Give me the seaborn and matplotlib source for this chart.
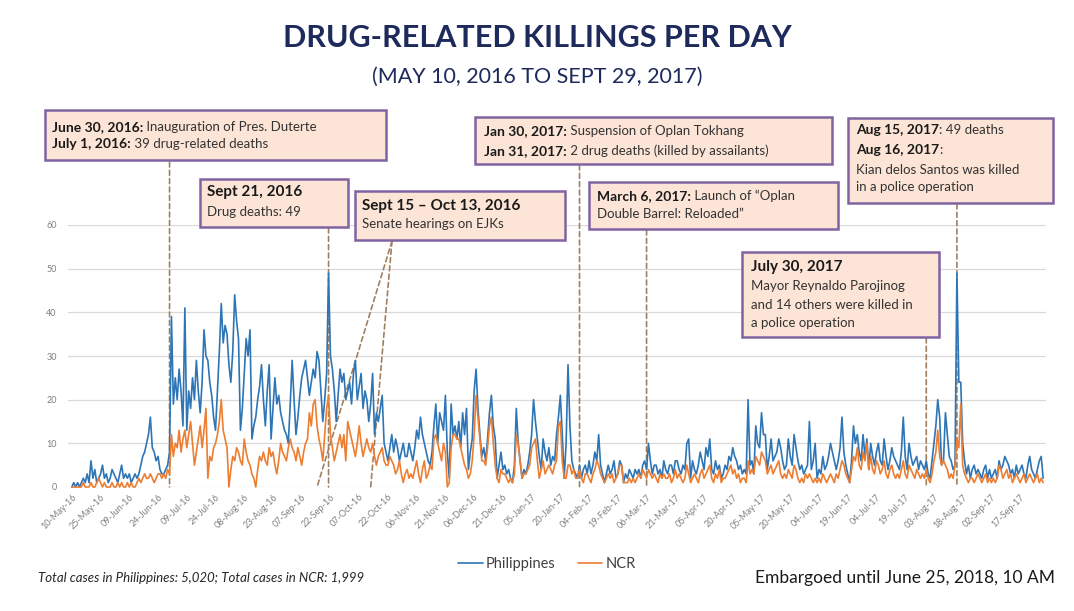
import numpy as np
import pandas as pd
import seaborn as sns
import matplotlib.pyplot as plt
from matplotlib.patches import Rectangle

# daily counts, 10 May 2016 -> 29 Sep 2017
start_date = "2016-05-10"
philippines = [
    0, 1, 0, 1, 0, 1, 2, 1, 3, 1,
    6, 2, 4, 1, 2, 3, 5, 2, 3, 1,
    2, 4, 3, 2, 1, 3, 5, 2, 3, 2,
    3, 1, 2, 3, 2, 3, 5, 7, 8, 10,
    12, 16, 9, 8, 6, 7, 4, 3, 3, 4,
    5, 8, 39, 19, 25, 20, 27, 22, 14, 41,
    13, 22, 18, 25, 20, 29, 22, 17, 24, 36,
    30, 29, 24, 21, 16, 13, 22, 31, 42, 33,
    37, 35, 28, 24, 31, 44, 38, 34, 13, 18,
    26, 34, 30, 36, 11, 14, 16, 20, 23, 28,
    20, 14, 22, 28, 11, 18, 25, 19, 21, 17,
    15, 13, 12, 10, 19, 29, 20, 12, 16, 21,
    25, 27, 29, 25, 21, 24, 27, 25, 31, 29,
    22, 15, 20, 26, 49, 30, 27, 22, 15, 21,
    27, 24, 26, 20, 22, 24, 19, 26, 29, 20,
    23, 26, 18, 22, 20, 15, 19, 26, 12, 17,
    15, 18, 21, 10, 8, 6, 9, 12, 8, 11,
    9, 6, 8, 10, 7, 7, 10, 8, 6, 9,
    13, 11, 16, 12, 10, 8, 6, 5, 8, 14,
    19, 10, 17, 15, 13, 21, 8, 2, 19, 12,
    14, 11, 15, 9, 17, 12, 18, 4, 8, 11,
    22, 27, 18, 12, 7, 9, 6, 11, 17, 21,
    14, 11, 2, 5, 8, 4, 5, 3, 4, 2,
    1, 5, 18, 10, 6, 2, 4, 3, 5, 8,
    12, 20, 15, 11, 7, 4, 11, 8, 6, 9,
    5, 7, 6, 12, 16, 21, 12, 2, 10, 28,
    14, 6, 4, 3, 2, 5, 2, 4, 5, 3,
    6, 3, 5, 8, 6, 12, 5, 3, 1, 3,
    5, 3, 4, 6, 2, 3, 6, 5, 1, 3,
    2, 4, 3, 2, 4, 3, 4, 2, 5, 6,
    4, 10, 6, 3, 5, 5, 3, 4, 2, 6,
    4, 3, 5, 5, 3, 6, 6, 4, 3, 5,
    4, 10, 11, 2, 6, 4, 3, 5, 8, 6,
    4, 9, 7, 11, 4, 3, 6, 4, 5, 2,
    3, 5, 4, 7, 6, 9, 7, 6, 4, 5,
    3, 4, 3, 20, 5, 6, 3, 14, 10, 9,
    17, 12, 12, 4, 7, 11, 6, 7, 8, 11,
    9, 6, 4, 5, 11, 7, 5, 12, 9, 6,
    4, 5, 3, 4, 5, 15, 4, 6, 10, 2,
    4, 3, 7, 4, 5, 7, 10, 8, 6, 4,
    6, 9, 16, 8, 5, 3, 1, 6, 14, 10,
    12, 8, 6, 12, 7, 11, 4, 10, 7, 5,
    8, 10, 6, 5, 11, 7, 4, 6, 9, 7,
    6, 5, 4, 8, 16, 7, 4, 10, 7, 5,
    6, 7, 4, 6, 5, 4, 6, 3, 2, 6,
    10, 14, 20, 16, 5, 6, 17, 12, 7, 6,
    4, 5, 49, 24, 24, 10, 6, 3, 5, 2,
    4, 5, 3, 4, 3, 2, 4, 5, 2, 4,
    2, 3, 4, 2, 6, 4, 5, 7, 6, 5,
    3, 4, 2, 5, 3, 4, 5, 3, 2, 5,
    7, 4, 3, 2, 4, 6, 7, 2,
]
ncr = [
    0, 0, 0, 0, 0, 0, 1, 0, 0, 0,
    1, 0, 0, 1, 2, 1, 0, 1, 0, 0,
    0, 1, 0, 0, 1, 0, 1, 0, 0, 1,
    0, 1, 0, 0, 1, 2, 1, 2, 3, 2,
    2, 3, 2, 1, 2, 3, 3, 2, 3, 2,
    4, 3, 12, 7, 10, 9, 13, 8, 11, 13,
    9, 12, 15, 10, 5, 8, 11, 14, 9, 13,
    18, 2, 7, 6, 9, 10, 12, 15, 20, 13,
    11, 9, 0, 4, 7, 6, 9, 8, 6, 5,
    11, 8, 6, 5, 3, 2, 0, 4, 7, 6,
    8, 6, 5, 9, 7, 8, 5, 3, 6, 10,
    8, 7, 6, 9, 11, 9, 8, 6, 9, 7,
    5, 8, 10, 11, 17, 14, 19, 20, 14, 11,
    9, 6, 12, 18, 21, 12, 9, 6, 8, 10,
    12, 9, 12, 6, 15, 13, 11, 9, 7, 10,
    14, 10, 7, 9, 11, 9, 8, 10, 7, 5,
    7, 8, 9, 6, 5, 5, 7, 6, 5, 3,
    4, 6, 3, 1, 3, 4, 2, 3, 2, 4,
    6, 3, 1, 4, 6, 2, 3, 5, 4, 11,
    12, 10, 8, 6, 10, 8, 0, 1, 9, 12,
    12, 11, 11, 9, 7, 5, 4, 2, 3, 6,
    12, 21, 16, 11, 6, 6, 5, 9, 14, 16,
    10, 5, 2, 1, 4, 3, 3, 2, 1, 2,
    1, 3, 12, 10, 6, 2, 3, 3, 4, 5,
    9, 10, 11, 6, 2, 4, 6, 3, 4, 5,
    4, 3, 5, 6, 14, 15, 6, 2, 2, 5,
    5, 3, 4, 2, 2, 4, 2, 1, 3, 3,
    2, 1, 3, 4, 6, 5, 3, 2, 1, 2,
    3, 2, 3, 1, 2, 3, 5, 5, 1, 1,
    1, 2, 1, 2, 1, 2, 3, 2, 4, 3,
    2, 4, 3, 2, 3, 2, 1, 3, 2, 3,
    2, 2, 3, 1, 2, 4, 2, 3, 2, 1,
    2, 5, 3, 1, 2, 3, 2, 1, 3, 4,
    2, 3, 4, 5, 2, 1, 3, 2, 4, 1,
    2, 2, 3, 4, 5, 3, 4, 2, 3, 1,
    2, 2, 1, 6, 3, 4, 3, 7, 6, 5,
    8, 7, 6, 3, 4, 5, 3, 4, 5, 6,
    3, 2, 3, 2, 4, 3, 2, 5, 4, 2,
    1, 2, 1, 3, 2, 3, 2, 1, 2, 1,
    2, 1, 3, 2, 1, 2, 3, 2, 1, 3,
    2, 4, 6, 5, 3, 2, 1, 4, 7, 6,
    9, 5, 4, 8, 6, 10, 4, 7, 4, 3,
    6, 5, 3, 4, 6, 3, 2, 4, 5, 3,
    2, 3, 2, 4, 6, 3, 2, 5, 4, 3,
    2, 4, 3, 2, 3, 2, 4, 2, 1, 3,
    6, 8, 13, 7, 5, 6, 5, 4, 2, 3,
    2, 5, 11, 9, 19, 5, 3, 2, 1, 2,
    2, 1, 2, 3, 2, 1, 2, 3, 1, 2,
    1, 2, 1, 2, 5, 4, 2, 3, 4, 2,
    3, 1, 2, 3, 2, 1, 2, 3, 1, 2,
    3, 2, 1, 2, 3, 1, 2, 1,
]
y_ticks = [0, 10, 20, 30, 40, 50, 60]
tick_every = 15  # days between x labels

# event dates and where their dashed leader meets the box (pixel y of box bottom)
event_dates = ["2016-06-30", "2016-09-21", "2017-01-30", "2017-03-06", "2017-07-30", "2017-08-15"]
event_tops = [162, 228, 165, 230, 338, 204]
hearing_dates = ["2016-09-15", "2016-10-13"]

W, H = 1074, 611
blue, orange = "#2E75B6", "#ED7D31"
navy = "#1F2A5C"
box_fill, box_edge = "#FCE4D6", "#8064A2"

sns.set_theme(style="white")
plt.rcParams["font.family"] = ["Lato", "DejaVu Sans"]

dates = pd.date_range(start_date, periods=len(philippines), freq="D")
df = pd.DataFrame({"date": dates, "Philippines": philippines, "NCR": ncr})
long_df = df.melt(id_vars="date", var_name="region", value_name="deaths")

fig = plt.figure(figsize=(W / 100, H / 100), dpi=100)
ax = fig.add_axes([68 / W, 1 - 487 / H, (1046 - 68) / W, (487 - 225) / H])

sns.lineplot(data=long_df, x="date", y="deaths", hue="region",
             palette={"Philippines": blue, "NCR": orange},
             linewidth=1.2, ax=ax, zorder=3)
for ln in ax.get_lines():
    ln.set_clip_on(False)

ax.set_xlim(dates[0] - pd.Timedelta(days=2), dates[-1] + pd.Timedelta(days=1.5))
ax.set_ylim(0, 60)
ax.set_yticks(y_ticks)
ax.set_xticks(dates[::tick_every])
ax.set_xticklabels([d.strftime("%d-%b-%y") for d in dates[::tick_every]],
                   rotation=45, ha="right", rotation_mode="anchor")
ax.tick_params(axis="both", length=0, labelsize=6.5, labelcolor="#7f7f7f")
ax.tick_params(axis="x", pad=4)
ax.tick_params(axis="y", pad=8)
ax.set_xlabel("")
ax.set_ylabel("")
ax.grid(axis="y", color="#d9d9d9", linewidth=0.9)
ax.set_axisbelow(True)
sns.despine(ax=ax, left=True, bottom=True)

# dashed leaders from the events up to their boxes
dash = dict(arrowstyle="-", linestyle=(0, (3, 2)), color="#A08060", lw=1.2,
            shrinkA=0, shrinkB=0)
for d, top in zip(event_dates, event_tops):
    ax.annotate("", xy=(pd.Timestamp(d), 0), xycoords="data",
                xytext=(pd.Timestamp(d), 1 - top / H),
                textcoords=("data", "figure fraction"), arrowprops=dash, zorder=1)
for d in hearing_dates:
    ax.annotate("", xy=(pd.Timestamp(d), 0), xycoords="data",
                xytext=(392 / W, 1 - 241 / H), textcoords="figure fraction",
                arrowprops=dash, zorder=1)

# legend below the axis
sns.move_legend(ax, "center", bbox_to_anchor=(547 / W, 1 - 564 / H),
                bbox_transform=fig.transFigure, ncol=2, frameon=False,
                title=None, fontsize=10.5, handlelength=1.7,
                handletextpad=0.2, columnspacing=1.5)
for t in ax.get_legend().get_texts():
    t.set_color("#404040")

renderer = fig.canvas.get_renderer()


def box(x0, y0, x1, y1):
    fig.add_artist(Rectangle((x0 / W, 1 - y1 / H), (x1 - x0) / W, (y1 - y0) / H,
                             transform=fig.transFigure, facecolor=box_fill,
                             edgecolor=box_edge, linewidth=1.8, zorder=2))


def rich_line(x_px, y_px, parts):
    x = x_px / W
    for text, bold, size in parts:
        t = fig.text(x, 1 - y_px / H, text, fontsize=size, va="center", ha="left",
                     fontweight="bold" if bold else "normal",
                     color="#1a1a1a" if bold else "#333333", zorder=4)
        x += t.get_window_extent(renderer).width / W


box(45, 110, 386, 160)
rich_line(52, 127, [("June 30, 2016:", True, 10), (" Inauguration of Pres. Duterte", False, 9.5)])
rich_line(52, 144, [("July 1, 2016:", True, 10), (" 39 drug-related deaths", False, 9.5)])

box(200, 179, 348, 227)
rich_line(207, 192, [("Sept 21, 2016", True, 11)])
rich_line(207, 212, [("Drug deaths: 49", False, 9.5)])

box(355, 191, 565, 240)
rich_line(362, 206, [("Sept 15 \u2013 Oct 13, 2016", True, 11)])
rich_line(362, 224, [("Senate hearings on EJKs", False, 9.5)])

box(475, 117, 832, 164)
rich_line(484, 131, [("Jan 30, 2017:", True, 10), (" Suspension of Oplan Tokhang", False, 9.5)])
rich_line(484, 151, [("Jan 31, 2017:", True, 10), (" 2 drug deaths (killed by assailants)", False, 9.5)])

box(589, 182, 838, 229)
rich_line(597, 196, [("March 6, 2017:", True, 10), (" Launch of \u201cOplan", False, 9.5)])
rich_line(597, 214, [("Double Barrel: Reloaded\u201d", False, 9.5)])

box(848, 118, 1053, 203)
rich_line(856, 130, [("Aug 15, 2017", True, 10), (": 49 deaths", False, 9.5)])
rich_line(856, 150, [("Aug 16, 2017", True, 10), (":", False, 9.5)])
rich_line(856, 170, [("Kian delos Santos was killed", False, 9.5)])
rich_line(856, 187, [("in a police operation", False, 9.5)])

box(742, 252, 939, 337)
rich_line(751, 267, [("July 30, 2017", True, 11)])
rich_line(751, 286, [("Mayor Reynaldo Parojinog", False, 9.5)])
rich_line(751, 305, [("and 14 others were killed in", False, 9.5)])
rich_line(751, 323, [("a police operation", False, 9.5)])

# titles and footer
fig.text(0.5, 1 - 38 / H, "DRUG-RELATED KILLINGS PER DAY", ha="center", va="center",
         fontsize=22, fontweight="bold", color=navy)
fig.text(0.5, 1 - 77 / H, "(MAY 10, 2016 TO SEPT 29, 2017)", ha="center", va="center",
         fontsize=15.5, color=navy)
fig.text(38 / W, 1 - 578 / H, "Total cases in Philippines: 5,020; Total cases in NCR: 1,999",
         ha="left", va="center", fontsize=9.5, style="italic", color="#262626")
fig.text(1055 / W, 1 - 578 / H, "Embargoed until June 25, 2018, 10 AM",
         ha="right", va="center", fontsize=12.5, color="#1a1a1a")

fig.savefig("out.png", dpi=100)
